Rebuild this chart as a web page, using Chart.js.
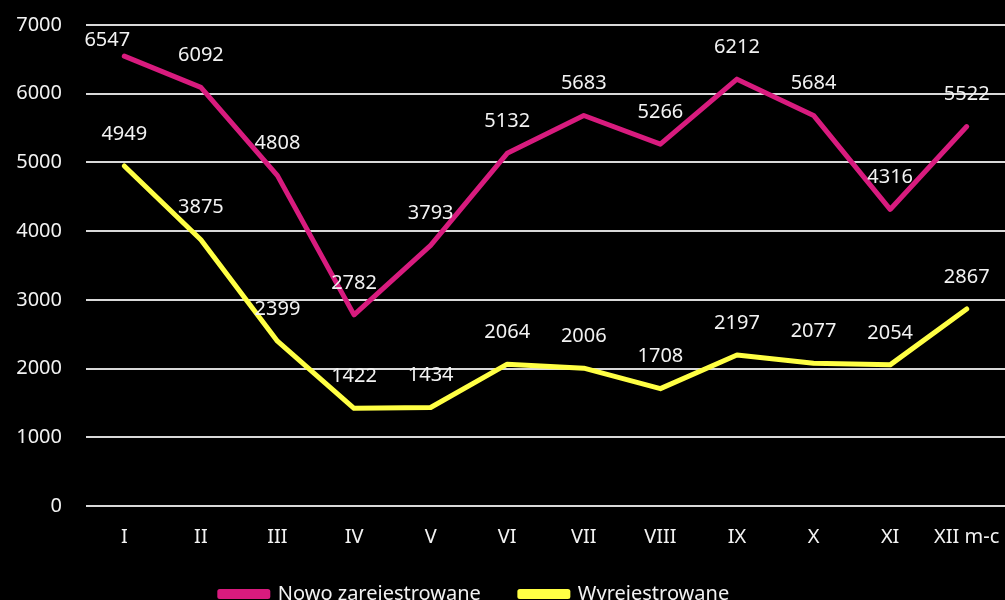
<!DOCTYPE html>
<html>
<head>
<meta charset="utf-8">
<script src="https://cdn.jsdelivr.net/npm/chart.js@4/dist/chart.umd.min.js"></script>
<style>
  html, body { margin: 0; padding: 0; background: #000; overflow: hidden; }
  #wrap { position: relative; width: 1005px; height: 614px; }
</style>
</head>
<body>
<div id="wrap"><canvas id="c"></canvas></div>
<script>
const categories = ['I', 'II', 'III', 'IV', 'V', 'VI', 'VII', 'VIII', 'IX', 'X', 'XI', 'XII'];
const axisUnit = 'm-c';
const nowoZarejestrowane = [6547, 6092, 4808, 2782, 3793, 5132, 5683, 5266, 6212, 5684, 4316, 5522];
const wyrejestrowane = [4949, 3875, 2399, 1422, 1434, 2064, 2006, 1708, 2197, 2077, 2054, 2867];
const seriesNames = ['Nowo zarejestrowane', 'Wyrejestrowane'];
const yTicks = [0, 1000, 2000, 3000, 4000, 5000, 6000, 7000];

const FONT = '"Noto Sans", "Open Sans", sans-serif';
const PINK = '#D81B7E';
const YELLOW = '#FFFF44';

const valueLabels = {
  id: 'valueLabels',
  afterDatasetsDraw(chart) {
    const ctx = chart.ctx;
    ctx.save();
    ctx.font = '20px ' + FONT;
    ctx.fillStyle = '#f2f2f2';
    ctx.textAlign = 'center';
    ctx.textBaseline = 'middle';
    chart.data.datasets.forEach((ds, di) => {
      const meta = chart.getDatasetMeta(di);
      meta.data.forEach((pt, i) => {
        let x = pt.x, y = pt.y - 32;
        if (y < chart.chartArea.top + 15) { y = chart.chartArea.top + 15; x -= 17; }
        ctx.fillText(String(ds.data[i]), x, y);
      });
    });
    ctx.restore();
  }
};

const legendShift = {
  id: 'legendShift',
  afterLayout(chart) {
    if (chart.legend) { chart.legend.left -= 28; chart.legend.right -= 28; }
  }
};

new Chart(document.getElementById('c'), {
  type: 'line',
  data: {
    labels: categories,
    datasets: [
      { label: seriesNames[0], data: nowoZarejestrowane, borderColor: PINK, backgroundColor: PINK,
        borderWidth: 5, pointRadius: 0, tension: 0, borderCapStyle: 'round', borderJoinStyle: 'round' },
      { label: seriesNames[1], data: wyrejestrowane, borderColor: YELLOW, backgroundColor: YELLOW,
        borderWidth: 5, pointRadius: 0, tension: 0, borderCapStyle: 'round', borderJoinStyle: 'round' }
    ]
  },
  options: {
    responsive: true,
    maintainAspectRatio: false,
    animation: false,
    layout: { padding: { top: 25, right: 0, left: 0, bottom: 0 } },
    plugins: {
      tooltip: { enabled: false },
      legend: {
        position: 'bottom',
        labels: {
          color: '#f2f2f2',
          font: { family: FONT, size: 20 },
          boxWidth: 48,
          boxHeight: 5,
          padding: 39
        }
      }
    },
    scales: {
      x: {
        offset: true,
        grid: { display: false, drawTicks: false },
        border: { display: false },
        ticks: {
          color: '#f2f2f2',
          font: { family: FONT, size: 20 },
          padding: 19,
          maxRotation: 0,
          autoSkip: false,
          callback: function (v, i) { return i === categories.length - 1 ? categories[i] + ' ' + axisUnit : categories[i]; }
        },
        afterFit: s => { s.height = 39; s.paddingLeft = 0; s.paddingRight = 0; }
      },
      y: {
        min: 0, max: 7000,
        afterBuildTicks: s => { s.ticks = yTicks.map(v => ({ value: v })); },
        grid: { color: '#d9d9d9', lineWidth: 2, drawTicks: false },
        border: { display: false },
        ticks: {
          color: '#f2f2f2',
          font: { family: FONT, size: 20 },
          padding: 24,
          callback: v => String(v)
        },
        afterFit: s => { s.width = 86; s.paddingTop = 0; s.paddingBottom = 0; }
      }
    }
  },
  plugins: [valueLabels, legendShift]
});
</script>
</body>
</html>
